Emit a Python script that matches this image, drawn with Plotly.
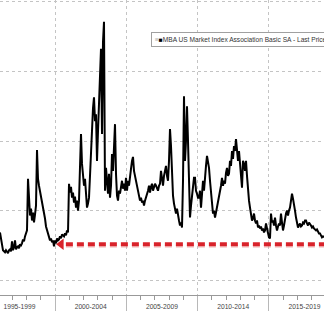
import pandas as pd
import plotly.graph_objects as go

# ---- data (MBA US Market Index, approximate readings) ----
start_date = "1996-02-20"
end_date = "2018-11-16"
index_values = [
    590, 550, 520, 500, 495, 490, 500, 495, 485, 500, 505, 495, 545, 500, 515, 550, 505, 515, 520, 510,
    530, 525, 535, 555, 545, 570, 585, 600, 860, 725, 675, 710, 650, 690, 640, 680, 725, 1005, 860, 825,
    800, 770, 750, 720, 690, 660, 620, 600, 590, 570, 550, 560, 540, 550, 520, 550, 535, 560, 550, 555,
    570, 560, 580, 575, 570, 585, 575, 600, 590, 835, 790, 820, 765, 790, 740, 770, 715, 750, 700, 750,
    900, 1085, 935, 875, 825, 860, 750, 715, 735, 765, 875, 1000, 1085, 1215, 1270, 1150, 1185, 950, 1100, 1250,
    1450, 1515, 1085, 1550, 1650, 800, 915, 825, 785, 885, 765, 825, 985, 900, 1085, 1135, 885, 775, 750, 800,
    785, 825, 850, 810, 835, 800, 865, 800, 850, 825, 890, 910, 950, 970, 900, 875, 850, 835, 815, 785,
    750, 765, 740, 750, 725, 750, 765, 790, 800, 825, 790, 820, 835, 800, 815, 835, 825, 810, 800, 825,
    835, 900, 860, 825, 875, 900, 925, 875, 850, 950, 1110, 1025, 835, 775, 735, 700, 685, 710, 665, 650,
    625, 640, 615, 850, 1275, 950, 1050, 1225, 1050, 835, 665, 725, 785, 800, 865, 865, 800, 785, 765, 765,
    800, 715, 775, 850, 800, 900, 925, 975, 950, 915, 850, 785, 750, 685, 700, 665, 690, 715, 750, 775,
    800, 825, 865, 825, 850, 835, 890, 915, 875, 885, 950, 925, 1000, 960, 1025, 1000, 1060, 975, 950, 1000,
    935, 875, 815, 950, 935, 900, 950, 875, 800, 750, 715, 675, 650, 660, 685, 650, 635, 650, 615, 625,
    610, 620, 600, 610, 590, 600, 635, 610, 585, 565, 560, 685, 640, 650, 625, 665, 625, 600, 620, 635,
    625, 685, 640, 600, 625, 665, 685, 700, 675, 700, 715, 750, 785, 760, 735, 700, 665, 630, 615, 625,
    635, 620, 625, 640, 635, 650, 650, 635, 625, 640, 635, 625, 615, 620, 610, 605, 600, 605, 590, 585,
    585, 575, 565, 570, 565,
]
series_name = "MBA US Market Index Association Basic SA - Last Price"

period_bounds = ["2000-01-01", "2005-01-01", "2010-01-01", "2015-01-01"]
period_mids = ["1997-07-02", "2002-07-02", "2007-07-02", "2012-07-02", "2017-07-02"]
period_labels = ["1995-1999", "2000-2004", "2005-2009", "2010-2014", "2015-2019"]

support_level = 530
arrow_head_date = "2000-06-05"
dash_start_date = "2000-10-05"

# ---- figure ----
dates = pd.date_range(start_date, end_date, periods=len(index_values))
x_range = [dates[0], dates[-1]]
y_range = [275, 1760]

fig = go.Figure()

# support line shadow + dashes
fig.add_trace(go.Scatter(
    x=[dash_start_date, dates[-1]], y=[support_level - 9, support_level - 9],
    mode="lines", line=dict(color="rgba(235,140,140,0.45)", width=3, dash="7px,4px"),
    hoverinfo="skip", showlegend=False))
fig.add_trace(go.Scatter(
    x=[dash_start_date, dates[-1]], y=[support_level, support_level],
    mode="lines", line=dict(color="#d9232b", width=4, dash="7px,4px"),
    hoverinfo="skip", showlegend=False))
fig.add_trace(go.Scatter(
    x=[arrow_head_date], y=[support_level], mode="markers",
    marker=dict(symbol="triangle-left", size=10, color="#d9232b"),
    hoverinfo="skip", showlegend=False))

fig.add_trace(go.Scatter(
    x=dates, y=index_values, mode="lines", name=series_name,
    line=dict(color="#000000", width=2), showlegend=False))

grid = dict(showgrid=True, gridcolor="#c4c4c4", gridwidth=1, griddash="dot")

fig.update_layout(
    width=324, height=311,
    margin=dict(l=0, r=0, t=0, b=16, pad=0, autoexpand=False),
    paper_bgcolor="white", plot_bgcolor="white",
    font=dict(family="Liberation Sans, Arial, sans-serif", size=6.5, color="#333333"),
    showlegend=False,
    xaxis=dict(
        type="date", range=x_range, tickmode="array", tickvals=period_bounds,
        showticklabels=False, ticks="outside", ticklen=16, tickcolor="#b8b8b8",
        showline=True, linecolor="#999999", linewidth=1, zeroline=False,
        minor=dict(dtick="M12", tick0="2000-01-01", ticks="outside", ticklen=4,
                   tickcolor="#999999", showgrid=False),
        **grid),
    xaxis2=dict(
        type="date", range=x_range, overlaying="x", anchor="y", side="bottom",
        tickmode="array", tickvals=period_mids, ticktext=period_labels,
        ticks="outside", ticklen=5, tickcolor="rgba(0,0,0,0)",
        showgrid=False, showline=False, zeroline=False,
        tickfont=dict(size=6.7, color="#444444")),
    yaxis=dict(range=y_range, tickmode="linear", tick0=0, dtick=350,
               showticklabels=False, zeroline=False, showline=False, ticks="", **grid),
)

# label axis needs a trace to be drawn
fig.add_trace(go.Scatter(x=[dates[0]], y=[None], xaxis="x2", yaxis="y",
                         showlegend=False, hoverinfo="skip"))

fig.add_annotation(
    xref="paper", yref="paper", x=151 / 324, y=1 - 32 / 295,
    xanchor="left", yanchor="top", showarrow=False, align="left",
    text="<span style='color:#b0b0b0'>≡</span><span style='color:#000'>■</span>" + series_name,
    font=dict(size=6.6, color="#333333"),
    bgcolor="white", bordercolor="#a0a0a0", borderwidth=1, borderpad=3)

fig.write_html("out.html")
